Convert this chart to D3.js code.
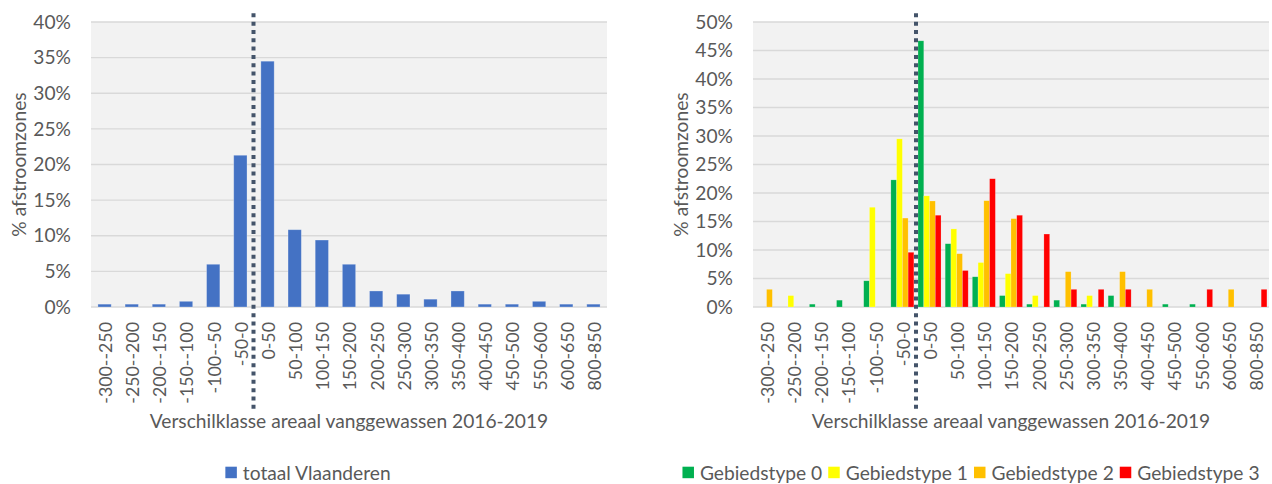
<!DOCTYPE html>
<html>
<head>
<meta charset="utf-8">
<script src="https://cdn.jsdelivr.net/npm/d3@7"></script>
<style>
  html, body { margin: 0; padding: 0; background: #fff; }
  svg { display: block; }
  text { font-family: Lato, "Open Sans", sans-serif; fill: #595959; }
</style>
</head>
<body>
<svg id="chart" width="1272" height="484"></svg>
<script>
const categories = ["-300--250","-250--200","-200--150","-150--100","-100--50","-50-0","0-50","50-100","100-150","150-200","200-250","250-300","300-350","350-400","400-450","450-500","550-600","600-650","800-850"];
const totaalVlaanderen = [0.4,0.4,0.4,0.8,6.0,21.3,34.5,10.85,9.4,6.0,2.25,1.8,1.1,2.25,0.4,0.4,0.8,0.4,0.4];
const gebied0 = [0,0,0.5,1.2,4.6,22.3,46.7,11.1,5.3,2.0,0.5,1.2,0.5,2.0,0,0.5,0.5,0,0];
const gebied1 = [0,2.0,0,0,17.5,29.5,19.5,13.7,7.8,5.85,2.0,0,2.0,0,0,0,0,0,0];
const gebied2 = [3.1,0,0,0,0,15.6,18.6,9.35,18.65,15.5,0,6.2,0,6.2,3.1,0,0,3.1,0];
const gebied3 = [0,0,0,0,0,9.6,16.1,6.4,22.5,16.1,12.8,3.1,3.1,3.1,0,0,3.1,0,3.1];
const seriesNames = ["Gebiedstype 0","Gebiedstype 1","Gebiedstype 2","Gebiedstype 3"];
const leftTicks = [0,5,10,15,20,25,30,35,40];
const rightTicks = [0,5,10,15,20,25,30,35,40,45,50];
const xTitle = "Verschilklasse areaal vanggewassen 2016-2019";
const yTitle = "% afstroomzones";

const svg = d3.select("#chart");
const FS = 19.2;
const FS_TICK = 17.8;
const seriesColors = ["#00B050","#FFFF00","#FFC000","#FF0000"];

function panel(opts) {
  const {x0, x1, yTop, yBot, maxV, ticks, yTitleX} = opts;
  const g = svg.append("g");
  const x = d3.scaleBand().domain(categories).range([x0, x1]);
  const y = d3.scaleLinear().domain([0, maxV]).range([yBot, yTop]);

  g.append("rect").attr("x", x0).attr("y", yTop).attr("width", x1 - x0).attr("height", yBot - yTop).attr("fill", "#f2f2f2");
  g.selectAll("line.grid").data(ticks).join("line")
    .attr("x1", x0).attr("x2", x1)
    .attr("y1", d => y(d)).attr("y2", d => y(d))
    .attr("stroke", "#d9d9d9").attr("stroke-width", 1.3);

  const yAxis = g.append("g").attr("transform", `translate(${x0},0)`)
    .call(d3.axisLeft(y).tickValues(ticks).tickSize(0).tickPadding(20).tickFormat(d => d + "%"));
  yAxis.select(".domain").remove();
  yAxis.selectAll("text").style("font-size", FS + "px").attr("fill", "#595959").style("font-family", "Lato, sans-serif");

  const xAxis = g.append("g").attr("transform", `translate(0,${yBot})`)
    .call(d3.axisBottom(x).tickSize(0));
  xAxis.select(".domain").remove();
  xAxis.selectAll("text")
    .attr("transform", "rotate(-90)")
    .attr("x", -15).attr("y", 1).attr("dy", "0.36em")
    .style("text-anchor", "end")
    .style("font-size", FS_TICK + "px").attr("fill", "#595959").style("font-family", "Lato, sans-serif");

  g.append("text").attr("x", (x0 + x1) / 2).attr("y", 428).attr("text-anchor", "middle")
    .style("font-size", FS + "px").text(xTitle);
  g.append("text").attr("transform", `translate(${yTitleX},${(yTop + yBot) / 2}) rotate(-90)`)
    .attr("text-anchor", "middle").style("font-size", FS + "px").text(yTitle);

  return {g, x, y};
}

function dotted(g, xPos) {
  g.append("line").attr("x1", xPos).attr("x2", xPos).attr("y1", 13.3).attr("y2", 409)
    .attr("stroke", "#44546A").attr("stroke-width", 4).attr("stroke-dasharray", "4,4.33");
}

function legend(items, center) {
  const lg = svg.append("g");
  let cx = 0;
  const parts = [];
  items.forEach((it, i) => {
    const sq = lg.append("rect").attr("y", 466.7).attr("width", 11.5).attr("height", 11.5).attr("fill", it.color);
    const t = lg.append("text").attr("y", 480).style("font-size", FS + "px").text(it.name);
    const w = t.node().getComputedTextLength();
    parts.push({sq, t, start: cx});
    cx += 11.5 + 6 + w + (i < items.length - 1 ? 6 : 0);
  });
  const off = center - cx / 2;
  parts.forEach(p => {
    p.sq.attr("x", off + p.start);
    p.t.attr("x", off + p.start + 17.5);
  });
}

// Left panel
const L = panel({x0: 91, x1: 607, yTop: 22, yBot: 307, maxV: 40, ticks: leftTicks, yTitleX: 26});
const lx = L.x.copy().paddingInner(0.51).paddingOuter(0.255);
L.g.selectAll("rect.bar").data(totaalVlaanderen).join("rect")
  .attr("x", (d, i) => lx(categories[i]))
  .attr("width", lx.bandwidth())
  .attr("y", d => L.y(d)).attr("height", d => L.y(0) - L.y(d))
  .attr("fill", "#4472C4").attr("stroke", "#fff").attr("stroke-opacity", 0.35).attr("stroke-width", 0.8);
dotted(L.g, 253.5);
legend([{name: "totaal Vlaanderen", color: "#4472C4"}], 308);

// Right panel
const R = panel({x0: 753, x1: 1269, yTop: 22, yBot: 307, maxV: 50, ticks: rightTicks, yTitleX: 688});
const rx = R.x.copy().paddingInner(0.153).paddingOuter(0.0765);
const sub = d3.scaleBand().domain([0,1,2,3]).range([0, rx.bandwidth()]);
const allSeries = [gebied0, gebied1, gebied2, gebied3];
allSeries.forEach((vals, si) => {
  R.g.selectAll("rect.s" + si).data(vals).join("rect")
    .attr("x", (d, i) => rx(categories[i]) + sub(si))
    .attr("width", sub.bandwidth())
    .attr("y", d => R.y(d)).attr("height", d => R.y(0) - R.y(d))
    .attr("fill", seriesColors[si]).attr("stroke", "#fff").attr("stroke-opacity", 0.3).attr("stroke-width", 0.6);
});
dotted(R.g, 916);
legend(seriesNames.map((n, i) => ({name: n, color: seriesColors[i]})), 971);
</script>
</body>
</html>
